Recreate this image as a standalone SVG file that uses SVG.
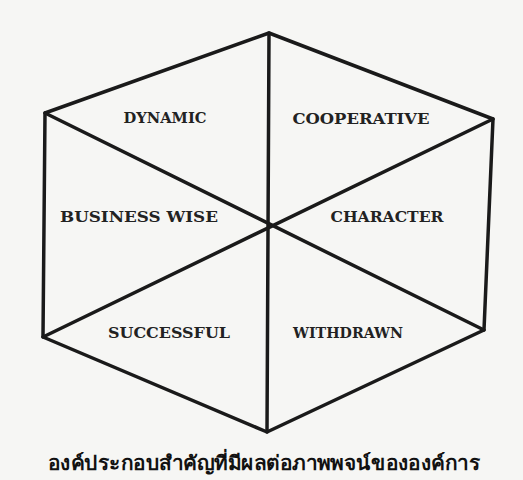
<svg xmlns="http://www.w3.org/2000/svg" width="523" height="480" viewBox="0 0 523 480">
<style>
.edge{stroke:#1a1a1a;stroke-width:3.5;stroke-linecap:round;stroke-linejoin:round;fill:none}
.lbl{font-family:"DejaVu Serif","Liberation Serif",serif;font-size:14px;font-weight:bold;fill:#222;text-anchor:middle}
.cap{font-family:"Noto Sans","DejaVu Sans",sans-serif;font-size:20px;font-weight:bold;fill:#111;text-anchor:middle}
</style>
<rect width="523" height="480" fill="#f6f6f4"/>
<g id="connectors">
<polygon class="edge" points="269,33 493,119 484,330 267,432 43,337 45,113"/>
<line class="edge" x1="269" y1="33" x2="267" y2="432"/>
<line class="edge" x1="45" y1="113" x2="484" y2="330"/>
<line class="edge" x1="493" y1="119" x2="43" y2="337"/>
</g>
<g id="dynamic"><text class="lbl" x="165" y="123" textLength="83" lengthAdjust="spacingAndGlyphs">DYNAMIC</text></g>
<g id="cooperative"><text class="lbl" x="361" y="124" textLength="137" lengthAdjust="spacingAndGlyphs">COOPERATIVE</text></g>
<g id="business-wise"><text class="lbl" x="139" y="222" textLength="158" lengthAdjust="spacingAndGlyphs">BUSINESS WISE</text></g>
<g id="character"><text class="lbl" x="387" y="222" textLength="113" lengthAdjust="spacingAndGlyphs">CHARACTER</text></g>
<g id="successful"><text class="lbl" x="169" y="338" textLength="122" lengthAdjust="spacingAndGlyphs">SUCCESSFUL</text></g>
<g id="withdrawn"><text class="lbl" x="348" y="338" textLength="110" lengthAdjust="spacingAndGlyphs">WITHDRAWN</text></g>
<g id="caption"><text class="cap" x="264" y="470" textLength="432" lengthAdjust="spacingAndGlyphs">องค์ประกอบสำคัญที่มีผลต่อภาพพจน์ขององค์การ</text></g>
</svg>
